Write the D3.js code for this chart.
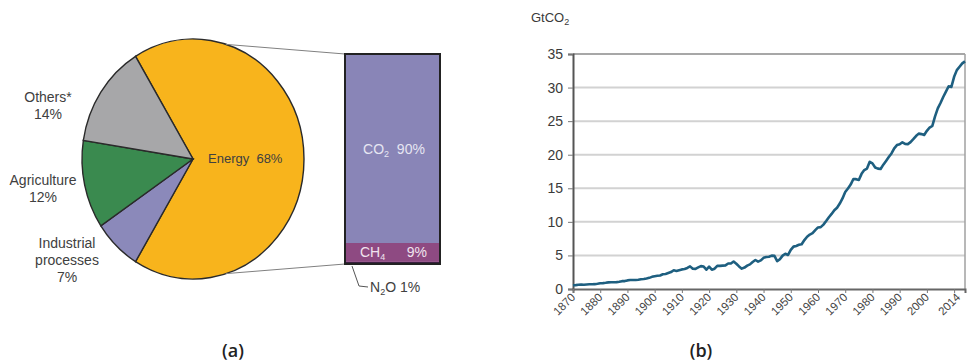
<!DOCTYPE html>
<html>
<head>
<meta charset="utf-8">
<script src="https://cdn.jsdelivr.net/npm/d3@7"></script>
<style>
  html, body { margin: 0; padding: 0; background: #fff; }
  svg { display: block; font-family: "Liberation Sans", Arial, sans-serif; }
</style>
</head>
<body>
<svg id="chart" width="967" height="362"></svg>
<script>
// Greenhouse-gas emissions by sector (%)
const sectorNames = ["Energy", "Industrial processes", "Agriculture", "Others*"];
const sectorShares = [68, 7, 12, 14];

// Energy emissions split by gas (%)
const gasNames = ["N2O", "CH4", "CO2"];
const gasShares = [1, 9, 90];

// Global CO2 emissions, GtCO2, 1870-2014
const years = d3.range(1870, 2015);
const emissions = [
  0.55, 0.58, 0.63, 0.67, 0.64, 0.68, 0.70, 0.71, 0.72, 0.77,
  0.85, 0.88, 0.93, 0.99, 1.00, 1.00, 1.02, 1.07, 1.17, 1.18,
  1.28, 1.33, 1.34, 1.33, 1.37, 1.46, 1.50, 1.57, 1.66, 1.81,
  1.91, 1.97, 2.02, 2.20, 2.23, 2.37, 2.52, 2.79, 2.68, 2.80,
  2.92, 2.98, 3.13, 3.37, 3.03, 2.99, 3.21, 3.41, 3.34, 2.88,
  3.32, 2.87, 3.02, 3.46, 3.44, 3.48, 3.51, 3.79, 3.80, 4.09,
  3.76, 3.36, 3.03, 3.19, 3.48, 3.67, 4.03, 4.32, 4.08, 4.26,
  4.64, 4.77, 4.80, 4.97, 4.94, 4.15, 4.43, 4.97, 5.25, 5.07,
  5.82, 6.31, 6.41, 6.58, 6.66, 7.29, 7.78, 8.11, 8.32, 8.76,
  9.17, 9.21, 9.59, 10.12, 10.69, 11.18, 11.74, 12.11, 12.73, 13.49,
  14.44, 14.98, 15.55, 16.38, 16.36, 16.24, 17.15, 17.71, 17.94, 18.95,
  18.71, 18.10, 17.93, 17.88, 18.52, 19.08, 19.66, 20.19, 20.95, 21.43,
  21.55, 21.85, 21.62, 21.58, 21.88, 22.31, 22.78, 23.14, 23.07, 22.95,
  23.56, 24.05, 24.30, 25.70, 26.90, 27.70, 28.60, 29.40, 30.20, 30.10,
  31.60, 32.60, 33.10, 33.60, 33.90
];
const yTicks = [0, 5, 10, 15, 20, 25, 30, 35];
const xTickYears = d3.range(1870, 2011, 10);
const xTickLabels = [1870, 1880, 1890, 1900, 1910, 1920, 1930, 1940, 1950, 1960, 1970, 1980, 1990, 2000, 2014];

const svg = d3.select("#chart");
const NB = "\u00a0";

// ---------- (a) pie of sectors ----------
const cx = 193, cy = 159, rx = 111, ry = 120;
const sectorColors = ["#F8B41C", "#8B89BA", "#3A8A4F", "#A7A7A9"];
const total = d3.sum(sectorShares);
const energyAngle = sectorShares[0] / total * 2 * Math.PI;
const start = Math.PI / 2 - energyAngle / 2;
const pie = d3.pie().sort(null).startAngle(start).endAngle(start + 2 * Math.PI);
const arc = d3.arc().innerRadius(0).outerRadius(ry);

const pieG = svg.append("g")
  .attr("transform", `translate(${cx},${cy}) scale(${rx / ry},1)`);
pieG.selectAll("path")
  .data(pie(sectorShares))
  .join("path")
  .attr("d", arc)
  .attr("fill", (d, i) => sectorColors[i])
  .attr("stroke", "#2a2a2a")
  .attr("stroke-width", 1.4)
  .attr("vector-effect", "non-scaling-stroke");

// connector lines from pie to the gas bar
const bx0 = 345, bx1 = 440;
const yBar = d3.scaleLinear().domain([0, 100]).range([264, 54]);
const ellipsePt = a => [cx + rx * Math.sin(a), cy - ry * Math.cos(a)];
const pTop = ellipsePt(0.30), pBot = ellipsePt(Math.PI - 0.30);
svg.append("line").attr("x1", pTop[0]).attr("y1", pTop[1]).attr("x2", bx0).attr("y2", yBar(100))
  .attr("stroke", "#808080").attr("stroke-width", 1);
svg.append("line").attr("x1", pBot[0]).attr("y1", pBot[1]).attr("x2", bx0).attr("y2", yBar(0))
  .attr("stroke", "#808080").attr("stroke-width", 1);

const pieLabel = (lines, x, y0, anchor, size) => {
  const t = svg.append("text").attr("x", x).attr("y", y0)
    .attr("text-anchor", anchor).attr("font-size", size).attr("fill", "#404040");
  lines.forEach((s, i) => t.append("tspan").attr("x", x).attr("dy", i ? 17 : 0).text(s));
};
pieLabel([`${sectorNames[0]}${NB}${NB}${sectorShares[0]}%`], 208, 163, "start", 13);
pieLabel([sectorNames[3], `${sectorShares[3]}%`], 48, 102, "middle", 14);
pieLabel([sectorNames[2], `${sectorShares[2]}%`], 43, 185, "middle", 14);
pieLabel(["Industrial", "processes", `${sectorShares[1]}%`], 67, 248, "middle", 14);

// ---------- gas split bar ----------
const gasColors = ["#3b2040", "#8E4A82", "#8985B7"];
let acc = 0;
const gasStack = gasShares.map((v, i) => { const s = { name: gasNames[i], v, y0: acc, y1: acc + v }; acc += v; return s; });
svg.selectAll("rect.gas")
  .data(gasStack)
  .join("rect")
  .attr("class", "gas")
  .attr("x", bx0).attr("width", bx1 - bx0)
  .attr("y", d => yBar(d.y1)).attr("height", d => yBar(d.y0) - yBar(d.y1))
  .attr("fill", (d, i) => gasColors[i]);
svg.append("rect").attr("x", bx0).attr("y", yBar(100))
  .attr("width", bx1 - bx0).attr("height", yBar(0) - yBar(100))
  .attr("fill", "none").attr("stroke", "#222").attr("stroke-width", 2);

const co2 = gasStack[2], ch4 = gasStack[1], n2o = gasStack[0];
const tCo2 = svg.append("text").attr("x", 394).attr("y", yBar((co2.y0 + co2.y1) / 2) + 5)
  .attr("text-anchor", "middle").attr("font-size", 14).attr("fill", "#e6e6f2");
tCo2.append("tspan").text("CO");
tCo2.append("tspan").attr("font-size", 9).attr("dy", 3).text("2");
tCo2.append("tspan").attr("dy", -3).text(`${NB}${NB}${co2.v}%`);
const tCh4 = svg.append("text").attr("x", 360).attr("y", yBar((ch4.y0 + ch4.y1) / 2) + 5)
  .attr("font-size", 14).attr("fill", "#f0e4ee");
tCh4.append("tspan").text("CH");
tCh4.append("tspan").attr("font-size", 9).attr("dy", 3).text("4");
svg.append("text").attr("x", 427).attr("y", yBar((ch4.y0 + ch4.y1) / 2) + 5)
  .attr("text-anchor", "end").attr("font-size", 14).attr("fill", "#f0e4ee").text(`${ch4.v}%`);

svg.append("polyline")
  .attr("points", `352,${yBar(0) + 2} 359,286 368,287`)
  .attr("fill", "none").attr("stroke", "#555").attr("stroke-width", 1);
const tN2o = svg.append("text").attr("x", 370).attr("y", 292)
  .attr("font-size", 14).attr("fill", "#404040");
tN2o.append("tspan").text("N");
tN2o.append("tspan").attr("font-size", 9).attr("dy", 3).text("2");
tN2o.append("tspan").attr("dy", -3).text(`O ${n2o.v}%`);

// ---------- (b) CO2 emissions line chart ----------
const x = d3.scaleLinear().domain([1870, 2014]).range([573, 965]);
const y = d3.scaleLinear().domain([0, 35]).range([289, 54]);

// horizontal gridlines
svg.append("g").selectAll("line")
  .data(yTicks.filter(v => v > 0))
  .join("line")
  .attr("x1", x.range()[0]).attr("x2", x.range()[1])
  .attr("y1", d => y(d)).attr("y2", d => y(d))
  .attr("stroke", d => d === 35 ? "#8a8a8a" : "#d2d2d2")
  .attr("stroke-width", d => d === 35 ? 1.5 : 2);
// right border
svg.append("line").attr("x1", x.range()[1]).attr("x2", x.range()[1])
  .attr("y1", y(35)).attr("y2", y(0)).attr("stroke", "#a0a0a0").attr("stroke-width", 1.5);

// y axis
const yAxis = svg.append("g").attr("transform", `translate(${x.range()[0]},0)`)
  .call(d3.axisLeft(y).tickValues(yTicks).tickSize(5).tickPadding(5));
yAxis.select(".domain").attr("stroke", "#555").attr("stroke-width", 2);
yAxis.selectAll(".tick line").attr("stroke", "#777");
yAxis.selectAll(".tick text").attr("font-size", 14).attr("fill", "#3a3a3a")
  .attr("font-family", "Liberation Sans, Arial, sans-serif");

// x axis
const xAxis = svg.append("g").attr("transform", `translate(0,${y(0)})`)
  .call(d3.axisBottom(x).tickValues(xTickYears).tickSize(4).tickFormat(""));
xAxis.select(".domain").attr("stroke", "#666").attr("stroke-width", 2);
xAxis.selectAll(".tick line").attr("stroke", "#777");
svg.append("g").selectAll("text")
  .data(xTickLabels)
  .join("text")
  .attr("transform", d => `translate(${Math.min(x(d) + 3, 961)},${y(0) + 9}) rotate(-45)`)
  .attr("text-anchor", "end")
  .attr("font-size", 11.5)
  .attr("fill", "#444")
  .text(d => d);

// unit label
const unit = svg.append("text").attr("x", 531).attr("y", 22)
  .attr("font-size", 13).attr("fill", "#3a3a3a");
unit.append("tspan").text("GtCO");
unit.append("tspan").attr("font-size", 9).attr("dy", 3).text("2");

// emissions line
const line = d3.line().x((d, i) => x(years[i])).y(d => y(d)).curve(d3.curveLinear);
svg.append("path")
  .datum(emissions)
  .attr("d", line)
  .attr("fill", "none")
  .attr("stroke", "#1E5F80")
  .attr("stroke-width", 2.6)
  .attr("stroke-linejoin", "round");

// panel captions
svg.append("text").attr("x", 233).attr("y", 357).attr("text-anchor", "middle")
  .attr("font-size", 18).attr("font-weight", 600).attr("fill", "#222")
  .attr("font-family", "Open Sans, sans-serif").text("(a)");
svg.append("text").attr("x", 701).attr("y", 357).attr("text-anchor", "middle")
  .attr("font-size", 18).attr("font-weight", 600).attr("fill", "#222")
  .attr("font-family", "Open Sans, sans-serif").text("(b)");
</script>
</body>
</html>
